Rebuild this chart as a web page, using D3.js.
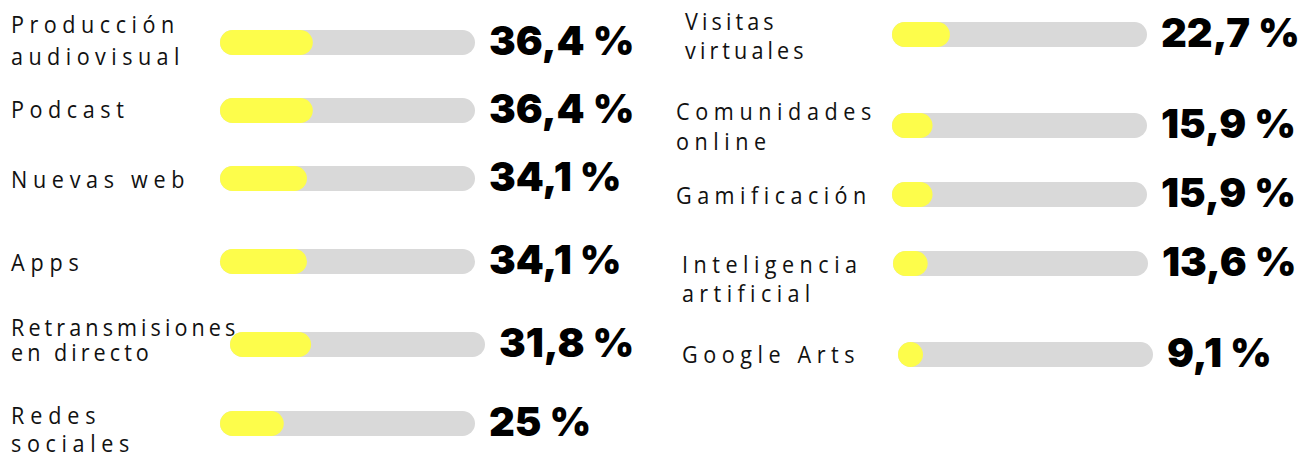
<!DOCTYPE html>
<html>
<head>
<meta charset="utf-8">
<script src="https://cdn.jsdelivr.net/npm/d3@7"></script>
<style>
  html, body { margin: 0; padding: 0; background: #ffffff; }
  svg { display: block; }
</style>
</head>
<body>
<svg id="chart" width="1300" height="457"></svg>
<script>
// ---- data ----
const categories = [
  ["Producción", "audiovisual"],
  ["Podcast"],
  ["Nuevas web"],
  ["Apps"],
  ["Retransmisiones", "en directo"],
  ["Redes", "sociales"],
  ["Visitas", "virtuales"],
  ["Comunidades", "online"],
  ["Gamificación"],
  ["Inteligencia", "artificial"],
  ["Google Arts"]
];
const values = [36.4, 36.4, 34.1, 34.1, 31.8, 25, 22.7, 15.9, 15.9, 13.6, 9.1];
const valueLabels = ["36,4 %", "36,4 %", "34,1 %", "34,1 %", "31,8 %", "25 %",
                     "22,7 %", "15,9 %", "15,9 %", "13,6 %", "9,1 %"];

// ---- layout (positions only) ----
const layout = [
  {lx: 11,  ly: [33, 65],   ls: 4.7, bx: 220, by: 30},
  {lx: 11,  ly: [118],      ls: 4.7, bx: 220, by: 98},
  {lx: 11,  ly: [188],      ls: 4.8, bx: 220, by: 166},
  {lx: 11,  ly: [271],      ls: 4.7, bx: 220, by: 249},
  {lx: 11,  ly: [336, 361], ls: 3.3, bx: 230, by: 332},
  {lx: 11,  ly: [424, 452], ls: 4.9, bx: 220, by: 411},
  {lx: 685, ly: [30, 59],   ls: 3.4, bx: 892, by: 22},
  {lx: 676, ly: [120, 150], ls: 4.7, bx: 892, by: 113},
  {lx: 676, ly: [204],      ls: 4.7, bx: 892, by: 182},
  {lx: 682, ly: [273, 302], ls: 4.8, bx: 893, by: 251},
  {lx: 682, ly: [363],      ls: 4.8, bx: 898, by: 342}
];

const barW = 255, barH = 25;
const labelScale = 0.92; // slightly condensed look of the label face
const x = d3.scaleLinear().domain([0, 100]).range([0, barW]);

const rows = values.map((v, i) => ({
  value: v, label: valueLabels[i], cat: categories[i], pos: layout[i]
}));

const svg = d3.select("#chart");
const g = svg.selectAll("g.row").data(rows).join("g").attr("class", "row");

// labels (condensed by horizontal scaling, tracking compensated so width is kept)
g.each(function(d) {
  const sel = d3.select(this);
  d.cat.forEach((line, j) => {
    const t = sel.append("text")
      .attr("x", 0)
      .attr("y", 0)
      .attr("font-family", "'Open Sans', 'Noto Sans', sans-serif")
      .attr("font-size", 23.5)
      .attr("letter-spacing", 0)
      .attr("fill", "#111")
      .text(line);
    const n = Math.max(line.length - 1, 1);
    const w0 = t.node().getComputedTextLength();
    const target = w0 * (23 / 23.5) + n * d.pos.ls;
    const ls2 = (target / labelScale - w0) / n;
    t.attr("letter-spacing", ls2)
     .attr("transform", `translate(${d.pos.lx},${d.pos.ly[j]}) scale(${labelScale},1)`);
  });
});

// track
g.append("rect")
  .attr("x", d => d.pos.bx)
  .attr("y", d => d.pos.by)
  .attr("width", barW)
  .attr("height", barH)
  .attr("rx", barH / 2)
  .attr("fill", "#d9d9d9");

// fill
g.append("rect")
  .attr("x", d => d.pos.bx)
  .attr("y", d => d.pos.by)
  .attr("width", d => Math.max(x(d.value), barH))
  .attr("height", barH)
  .attr("rx", barH / 2)
  .attr("fill", "#fdfd4b");

// value labels
g.append("text")
  .attr("x", d => d.pos.bx + barW + 14)
  .attr("y", d => d.pos.by + barH)
  .attr("font-family", "Inter, Roboto, 'Liberation Sans', sans-serif")
  .attr("font-weight", 900)
  .attr("font-size", 40)
  .attr("fill", "#000")
  .text(d => d.label);
</script>
</body>
</html>
